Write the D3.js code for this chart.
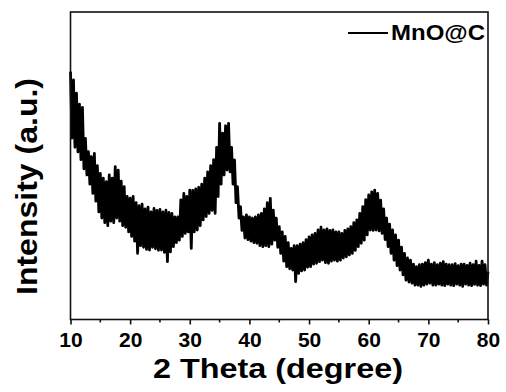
<!DOCTYPE html>
<html>
<head>
<meta charset="utf-8">
<script src="https://cdn.jsdelivr.net/npm/d3@7"></script>
<style>
  body { margin: 0; background: #fff; }
  text { font-family: Arial, "Liberation Sans", sans-serif; font-weight: bold; fill: #000; }
</style>
</head>
<body>
<svg id="chart" width="506" height="392"></svg>
<script>
const startAngle = 10;
const stepAngle = 0.25;
const intensity = [
  806, 590, 779, 560,   736, 545, 700, 520,   690, 490, 589, 470,   546, 440, 530, 410,
  540, 385, 500, 350,   475, 330, 460, 315,   448, 305, 470, 320,   460, 315, 497, 330,
  486, 320, 450, 305,   432, 300, 400, 285,   395, 270, 400, 255,   380, 215, 370, 240,
  375, 235, 360, 228,   365, 226, 350, 235,   361, 230, 355, 225,   358, 226, 350, 218,
  356, 188, 348, 220,   345, 237, 334, 250,   334, 258, 389, 270,   410, 280, 400, 285,
  421, 231, 420, 285,   425, 291, 430, 305,   440, 324, 460, 335,   480, 345, 500, 355,
  520, 345, 560, 400,   638, 440, 606, 470,   630, 486, 638, 480,   560, 440, 519, 380,
  432, 330, 367, 290,   334, 265, 340, 260,   334, 255, 330, 250,   334, 248, 340, 240,
  345, 237, 360, 240,   380, 237, 394, 245,   356, 258, 330, 235,   302, 215, 285, 190,
  270, 172, 250, 165,   231, 161, 240, 123,   240, 150, 245, 158,   250, 161, 260, 170,
  269, 172, 275, 180,   280, 183, 291, 188,   300, 193, 291, 185,   295, 183, 290, 190,
  291, 193, 285, 190,   285, 193, 280, 200,   290, 204, 295, 210,   302, 215, 315, 225,
  324, 237, 345, 248,   367, 258, 390, 275,   405, 291, 415, 290,   421, 291, 410, 288,
  388, 280, 360, 260,   330, 237, 310, 215,   291, 193, 275, 175,   258, 161, 235, 145,
  215, 128, 200, 122,   193, 118, 180, 112,   172, 112, 178, 108,   180, 112, 185, 115,
  193, 118, 180, 112,   185, 112, 178, 115,   183, 112, 188, 110,   180, 115, 178, 112,
  178, 110, 182, 115,   175, 112, 180, 108,   180, 115, 176, 112,   183, 110, 178, 114,
  190, 112, 176, 110,   190, 115, 178, 112,   156
];
const majorTicks = [10, 20, 30, 40, 50, 60, 70, 80];
const minorTicks = [15, 25, 35, 45, 55, 65, 75];
const seriesName = "MnO@C";

const svg = d3.select("#chart");
const plotLeft = 70.5, plotRight = 488, plotTop = 12, plotBottom = 319.5;

const x = d3.scaleLinear().domain([10, 80]).range([plotLeft, plotRight]);
const y = d3.scaleLinear().domain([0, 1000]).range([plotBottom, plotTop]);

const points = intensity.map((v, i) => [startAngle + i * stepAngle, v]);

// trace
const line = d3.line()
  .x(d => x(d[0]))
  .y(d => y(d[1]));

svg.append("path")
  .datum(points)
  .attr("d", line)
  .attr("fill", "none")
  .attr("stroke", "#000")
  .attr("stroke-width", 2.8)
  .attr("stroke-linejoin", "round");

// frame
svg.append("rect")
  .attr("x", plotLeft)
  .attr("y", plotTop)
  .attr("width", plotRight - plotLeft)
  .attr("height", plotBottom - plotTop)
  .attr("fill", "none")
  .attr("stroke", "#111")
  .attr("stroke-width", 1.6);

// x axis, ticks outward
const xAxis = svg.append("g")
  .attr("transform", `translate(0,${plotBottom})`)
  .call(d3.axisBottom(x).tickValues(majorTicks).tickSize(5).tickPadding(8).tickFormat(d3.format("d")));
xAxis.select(".domain").remove();
xAxis.selectAll(".tick line").attr("stroke", "#111").attr("stroke-width", 1.6);
xAxis.selectAll(".tick text")
  .style("font-family", "Arial, 'Liberation Sans', sans-serif")
  .style("font-weight", "bold")
  .style("font-size", "21px")
  .attr("fill", "#000");

svg.append("g")
  .selectAll("line")
  .data(minorTicks)
  .join("line")
  .attr("x1", d => x(d))
  .attr("x2", d => x(d))
  .attr("y1", plotBottom)
  .attr("y2", plotBottom + 3)
  .attr("stroke", "#111")
  .attr("stroke-width", 1.6);

// axis titles
svg.append("text")
  .attr("x", 153)
  .attr("y", 378)
  .attr("textLength", 250)
  .attr("lengthAdjust", "spacingAndGlyphs")
  .style("font-size", "28px")
  .text("2 Theta (degree)");

svg.append("text")
  .attr("transform", "translate(37,295) rotate(-90)")
  .attr("textLength", 217)
  .attr("lengthAdjust", "spacingAndGlyphs")
  .style("font-size", "29px")
  .text("Intensity (a.u.)");

// legend
svg.append("line")
  .attr("x1", 348)
  .attr("x2", 388)
  .attr("y1", 33)
  .attr("y2", 33)
  .attr("stroke", "#000")
  .attr("stroke-width", 1.8);

svg.append("text")
  .attr("x", 391)
  .attr("y", 39.5)
  .attr("textLength", 94)
  .attr("lengthAdjust", "spacingAndGlyphs")
  .style("font-size", "22px")
  .text(seriesName);
</script>
</body>
</html>
